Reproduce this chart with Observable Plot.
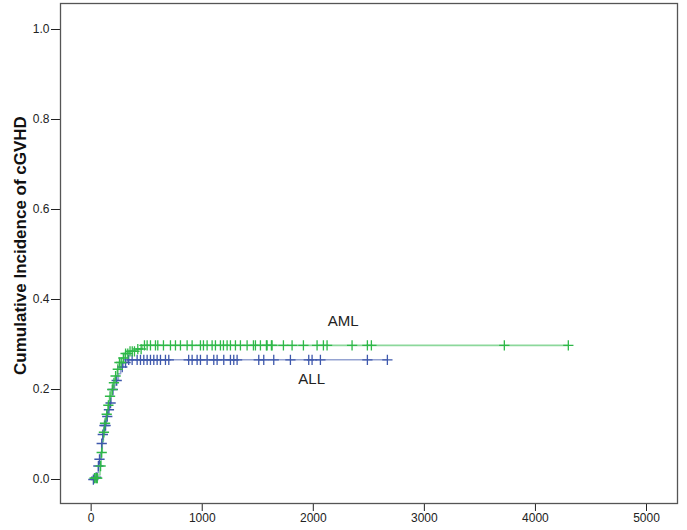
<!DOCTYPE html>
<html>
<head>
<meta charset="utf-8">
<script src="https://cdn.jsdelivr.net/npm/d3@7"></script>
<script src="https://cdn.jsdelivr.net/npm/@observablehq/plot@0.6"></script>
<style>
  html, body { margin: 0; padding: 0; background: #fff; }
  #chart svg { display: block; }
</style>
</head>
<body>
<div id="chart"></div>
<script>
// ---- data ----
const groups = ["ALL", "AML"];
const groupColors = ["#3E58AC", "#2EB848"];

// cumulative incidence step points: days and values
const allDays   = [0, 40, 55, 65, 75, 85, 95, 105, 120, 135, 150, 165, 180, 195, 210, 225, 245, 265, 290, 330];
const allValues = [0, 0.005, 0.015, 0.03, 0.045, 0.06, 0.08, 0.10, 0.12, 0.14, 0.155, 0.17, 0.185, 0.20, 0.21, 0.22, 0.235, 0.25, 0.26, 0.266];
const allCensored = [20, 45, 65, 75, 95, 105, 120, 130, 145, 160, 175, 195, 230, 280, 310, 338, 369, 414, 444, 474, 504, 534, 564, 594, 624, 669, 699, 878, 909, 954, 984, 1044, 1104, 1134, 1194, 1254, 1284, 1314, 1509, 1554, 1644, 1794, 1959, 1989, 2064, 2487, 2667];

const amlDays   = [0, 30, 60, 80, 90, 100, 110, 120, 135, 150, 165, 180, 195, 215, 235, 255, 275, 300, 340, 400, 460];
const amlValues = [0, 0.003, 0.01, 0.03, 0.06, 0.085, 0.105, 0.125, 0.145, 0.165, 0.185, 0.20, 0.215, 0.23, 0.245, 0.26, 0.27, 0.28, 0.285, 0.29, 0.298];
const amlCensored = [30, 35, 50, 55, 85, 95, 115, 125, 140, 155, 170, 190, 205, 220, 240, 255, 270, 290, 310, 330, 350, 370, 390, 420, 450, 480, 504, 534, 579, 600, 651, 714, 759, 804, 864, 909, 984, 1011, 1044, 1089, 1119, 1164, 1191, 1224, 1254, 1299, 1344, 1404, 1461, 1479, 1524, 1578, 1584, 1623, 1629, 1731, 1809, 1911, 2034, 2091, 2124, 2349, 2487, 2523, 3720, 4296];

const xTicks = [0, 1000, 2000, 3000, 4000, 5000];
const yTicks = [0.0, 0.2, 0.4, 0.6, 0.8, 1.0];
const yLabel = "Cumulative Incidence of cGVHD";
const curveLabels = ["AML", "ALL"];
const curveLabelDays = [2270, 1985];
const curveLabelValues = [0.352, 0.222];

// ---- build tables ----
function stepValue(days, values, t) {
  let v = values[0];
  for (let i = 0; i < days.length; i++) if (days[i] <= t) v = values[i];
  return v;
}
const series = [
  {g: groups[0], days: allDays, values: allValues, cens: allCensored},
  {g: groups[1], days: amlDays, values: amlValues, cens: amlCensored}
];
const lineData = [];
const censorData = [];
for (const s of series) {
  s.days.forEach((d, i) => lineData.push({group: s.g, day: d, ci: s.values[i]}));
  const last = s.cens[s.cens.length - 1];
  lineData.push({group: s.g, day: last, ci: stepValue(s.days, s.values, last)});
  s.cens.forEach(d => censorData.push({group: s.g, day: d, ci: stepValue(s.days, s.values, d)}));
}
const labelData = curveLabels.map((t, i) => ({text: t, day: curveLabelDays[i], ci: curveLabelValues[i]}));

const fontFamily = "Liberation Sans, Arial, sans-serif";

const chart = Plot.plot({
  width: 687,
  height: 530,
  marginLeft: 60,
  marginRight: 10,
  marginTop: 3,
  marginBottom: 27,
  style: {fontFamily, fontSize: "12px", color: "#222", background: "#fff"},
  x: {domain: [-276, 5279], ticks: xTicks, tickFormat: d3.format("d"), tickSize: 8, tickPadding: 2, label: null},
  y: {domain: [-0.0533, 1.0578], ticks: yTicks, tickFormat: d3.format(".1f"), tickSize: 9, tickPadding: 2, label: null},
  color: {domain: groups, range: groupColors},
  marks: [
    Plot.frame({stroke: "#555", strokeWidth: 1.3}),
    Plot.line(lineData, {x: "day", y: "ci", z: "group", stroke: "group", curve: "step-after", strokeWidth: 1.6, strokeOpacity: 0.55}),
    Plot.dot(censorData, {x: "day", y: "ci", stroke: "group", symbol: "plus", r: 3.4, strokeWidth: 1.3}),
    Plot.text(labelData, {x: "day", y: "ci", text: "text", fontSize: 15, fill: "#222", fontFamily}),
    Plot.text([yLabel], {frameAnchor: "left", y: [0.52], text: d => d, rotate: -90, textAnchor: "middle", dx: -40, fontSize: 17, fontWeight: "bold", fill: "#111", fontFamily})
  ]
});
document.getElementById("chart").appendChild(chart);
</script>
</body>
</html>
